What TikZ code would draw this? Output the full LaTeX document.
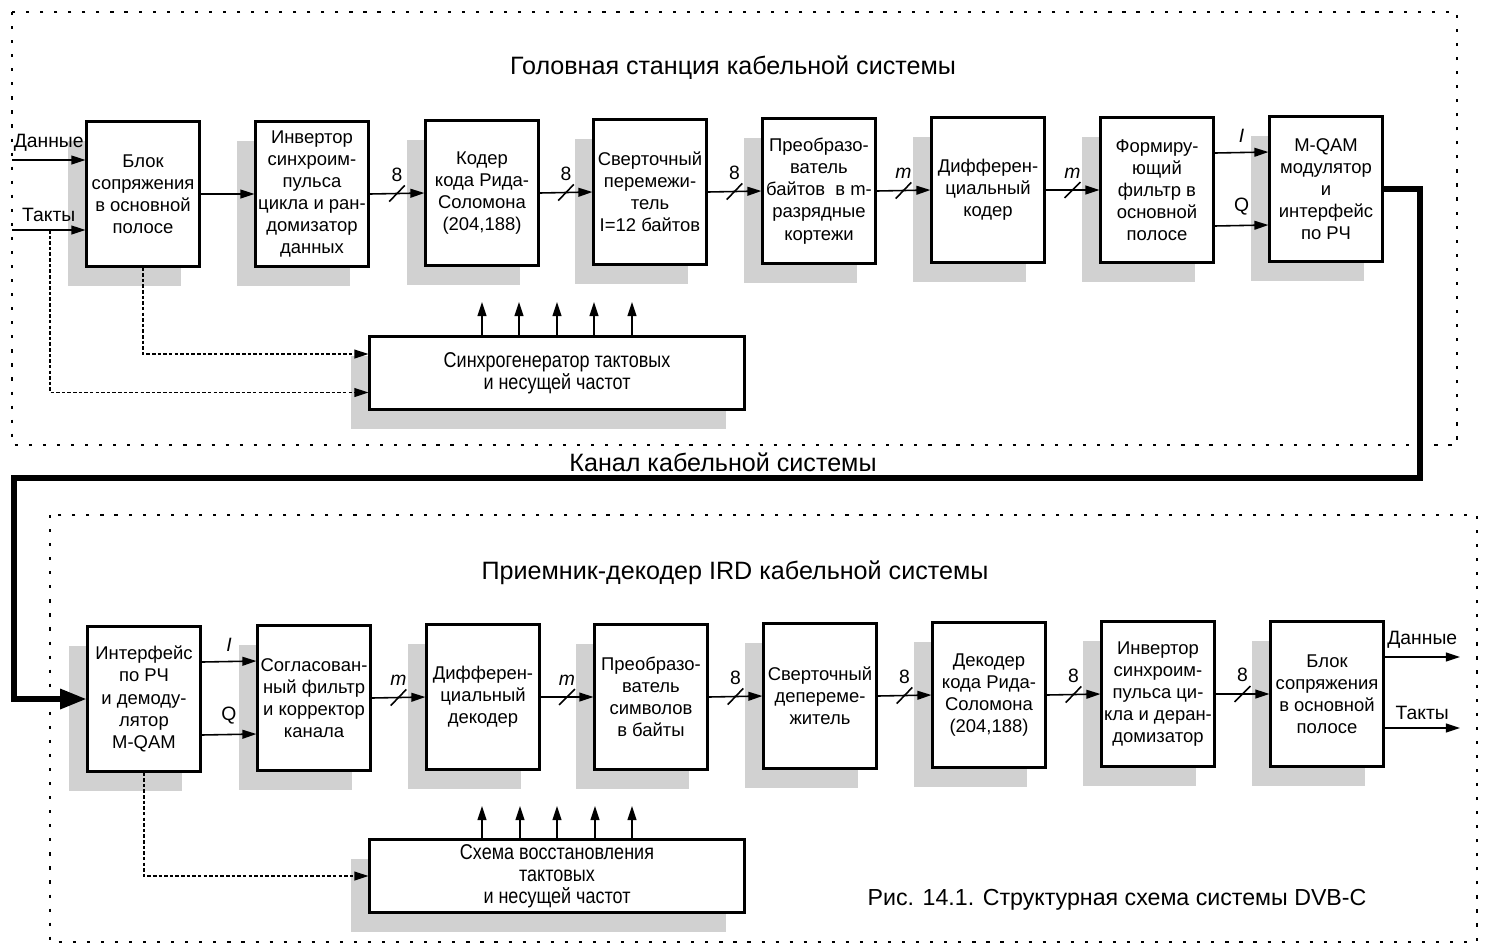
\documentclass[tikz,border=0pt]{standalone}
\usepackage{fontspec}
\setmainfont{Liberation Sans}
\newfontfamily\narrowfont[FakeStretch=0.84]{Liberation Sans}
\usetikzlibrary{arrows.meta,shadows,decorations.markings}

\begin{document}
\begin{tikzpicture}[
        x=0.02cm, y=-0.02cm,
        font=\fontsize{10.5}{12.6}\selectfont,
        block/.style={draw, line width=1.2pt, fill=white, align=center, minimum width=2.26cm, minimum height=2.9cm, inner sep=1pt, general shadow={fill=black!18, shadow xshift=-0.37cm, shadow yshift=-0.39cm}},
        syncbox/.style={block, minimum width=7.5cm, minimum height=1.46cm, font=\narrowfont\fontsize{12.2}{12.6}\selectfont},
        sig/.style={line width=0.9pt, -{Triangle[length=8pt,width=5pt]}},
        ctl/.style={sig, line width=0.8pt, dash pattern=on 2pt off 1.2pt},
        chan/.style={line width=3pt, -{Triangle[length=15pt,width=11pt]}},
        frame/.style={line width=1.5pt, dash pattern=on 1.8pt off 6.2pt},
        bus/.style={sig, postaction={decorate}, decoration={markings, mark=at position 0.5 with {\draw[-, line width=0.9pt] (-4.5pt,-4.5pt) -- (4.5pt,4.5pt);}}},
        lbl/.style={font=\fontsize{11}{13}\selectfont},
        title/.style={font=\fontsize{14.3}{17}\selectfont},
        capt/.style={font=\fontsize{13.2}{15}\selectfont}
    ]
    \useasboundingbox (0,0) rectangle (1487,948);

    \draw[frame] (12,12) rectangle (1457,445);
    \draw[frame] (50,515) rectangle (1477,942);
    \node[title] (hdr1) at (733,68) {Головная станция кабельной системы};
    \node[title] (chn) at (723,462) {Канал кабельной системы};
    \node[title] (hdr2) at (735,573) {Приемник-декодер IRD кабельной системы};
    \node[capt] (fig) at (1117,900) {Рис. 14.1. Структурная схема системы DVB-C};

    \node[block] (b1) at (143,194) {Блок\\сопряжения\\в основной\\полосе};
    \node[block] (b2) at (312,194) {Инвертор\\синхроим-\\пульса\\цикла и ран-\\домизатор\\данных};
    \node[block] (b3) at (482,193) {Кодер\\кода Рида-\\Соломона\\(204,188)};
    \node[block] (b4) at (650,192) {Сверточный\\перемежи-\\тель\\I=12 байтов};
    \node[block] (b5) at (819,191) {Преобразо-\\ватель\\байтов~~в m-\\разрядные\\кортежи};
    \node[block] (b6) at (988,190) {Дифферен-\\циальный\\кодер};
    \node[block] (b7) at (1157,190) {Формиру-\\ющий\\фильтр в\\основной\\полосе};
    \node[block] (b8) at (1326,189) {M-QAM\\модулятор\\и\\интерфейс\\по РЧ};
    \node[syncbox] (sync1) at (557,373) {Синхрогенератор тактовых\\и несущей частот};

    \node[block] (r1) at (144,699) {Интерфейс\\по РЧ\\и демоду-\\лятор\\M-QAM};
    \node[block] (r2) at (314,698) {Согласован-\\ный фильтр\\и корректор\\канала};
    \node[block] (r3) at (483,697) {Дифферен-\\циальный\\декодер};
    \node[block] (r4) at (651,697) {Преобразо-\\ватель\\символов\\в байты};
    \node[block] (r5) at (820,696) {Сверточный\\деперемe-\\житель};
    \node[block] (r6) at (989,695) {Декодер\\кода Рида-\\Соломона\\(204,188)};
    \node[block] (r7) at (1158,694) {Инвертор\\синхроим-\\пульса ци-\\кла и деран-\\домизатор};
    \node[block] (r8) at (1327,694) {Блок\\сопряжения\\в основной\\полосе};
    \node[syncbox] (sync2) at (557,876) {Схема восстановления\\тактовых\\и несущей частот};

    \coordinate (iD) at (12,160);
    \coordinate (iT) at (12,230);
    \coordinate (tap) at (50,230);
    \draw[sig] (iD) -- node[lbl, above=1pt] {Данные} (b1.west |- iD);
    \draw[sig] (iT) -- node[lbl, above=1pt] {Такты} (b1.west |- iT);
    \draw[ctl] (tap) |- ([yshift=-0.39cm]sync1.west);
    \draw[ctl] (b1.south) |- ([yshift=0.38cm]sync1.west);

    \draw[sig] (b1.east) -- (b2.west);
    \draw[bus] (b2.east) -- node[lbl, above=3pt] {8} (b3.west);
    \draw[bus] (b3.east) -- node[lbl, above=3pt] {8} (b4.west);
    \draw[bus] (b4.east) -- node[lbl, above=3pt] {8} (b5.west);
    \draw[bus] (b5.east) -- node[lbl, above=3pt] {\textit{m}} (b6.west);
    \draw[bus] (b6.east) -- node[lbl, above=3pt] {\textit{m}} (b7.west);
    \draw[sig] ([yshift=0.74cm]b7.east) -- node[lbl, above=2pt] {\textit{I}} ([yshift=0.74cm]b8.west);
    \draw[sig] ([yshift=-0.72cm]b7.east) -- node[lbl, above=2pt] {Q} ([yshift=-0.72cm]b8.west);
    \foreach \u in {482,519,557,594,632} {
        \coordinate (u\u) at (\u,302);
        \draw[sig] (sync1.north -| u\u) -- (u\u);
    }

    \coordinate (k1) at (1420,478);
    \coordinate (k2) at (14,478);
    \draw[chan] (b8.east) -| (k1) -- (k2) |- (r1.west);

    \draw[sig] ([yshift=0.74cm]r1.east) -- node[lbl, above=2pt] {\textit{I}} ([yshift=0.74cm]r2.west);
    \draw[sig] ([yshift=-0.72cm]r1.east) -- node[lbl, above=2pt] {Q} ([yshift=-0.72cm]r2.west);
    \draw[bus] (r2.east) -- node[lbl, above=3pt] {\textit{m}} (r3.west);
    \draw[bus] (r3.east) -- node[lbl, above=3pt] {\textit{m}} (r4.west);
    \draw[bus] (r4.east) -- node[lbl, above=3pt] {8} (r5.west);
    \draw[bus] (r5.east) -- node[lbl, above=3pt] {8} (r6.west);
    \draw[bus] (r6.east) -- node[lbl, above=3pt] {8} (r7.west);
    \draw[bus] (r7.east) -- node[lbl, above=3pt] {8} (r8.west);
    \draw[ctl] (r1.south) |- (sync2.west);
    \foreach \u in {482,520,557,595,632} {
        \coordinate (v\u) at (\u,806);
        \draw[sig] (sync2.north -| v\u) -- (v\u);
    }

    \coordinate (oD) at (1460,657);
    \coordinate (oT) at (1460,728);
    \draw[sig] (r8.east |- oD) -- node[lbl, above=1pt] {Данные} (oD);
    \draw[sig] (r8.east |- oT) -- node[lbl, above=1pt] {Такты} (oT);
\end{tikzpicture}
\end{document}
